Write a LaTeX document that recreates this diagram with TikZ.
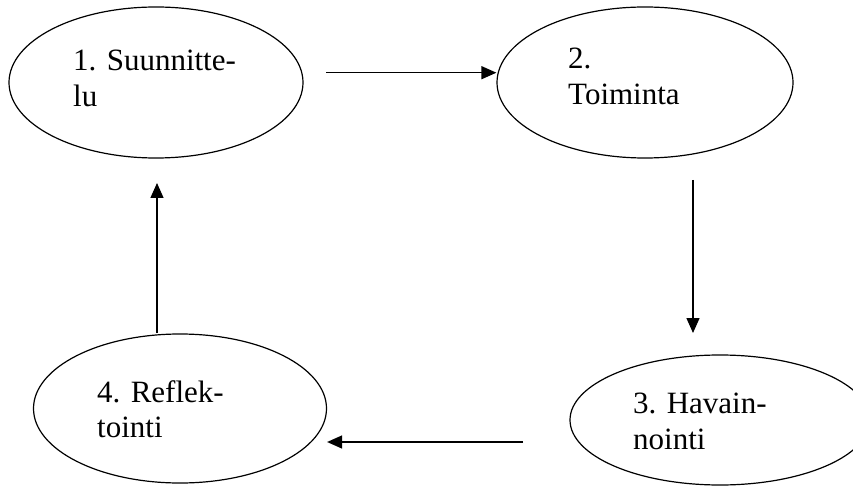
\documentclass[tikz,border=0pt]{standalone}
\usepackage{fontspec}
\setmainfont{Liberation Serif}
\usetikzlibrary{shapes.geometric,arrows.meta}
\begin{document}
\begin{tikzpicture}[x=1pt,y=-1pt,
  oval/.style={ellipse, draw, line width=1.2pt, inner sep=0pt},
  lbl/.style={anchor=base west, inner sep=0pt, font=\fontsize{31}{36}\selectfont},
  arr/.style={line width=1.4pt, -{Triangle[length=15pt,width=13pt]}}]
\useasboundingbox (0,0) rectangle (853,486);
\node[oval, minimum width=294pt, minimum height=151pt] (e1) at (156,82.5) {};
\node[oval, minimum width=296pt, minimum height=151pt] (e2) at (645,82.5) {};
\node[oval, minimum width=300pt, minimum height=130pt] (e3) at (720,420) {};
\node[oval, minimum width=293pt, minimum height=149pt] (e4) at (180,408.5) {};
\node[lbl] (t1a) at (73,71) {1. Suunnitte-};
\node[lbl] (t1b) at (73,107) {lu};
\node[lbl] (t2a) at (568,69) {2.};
\node[lbl] (t2b) at (568,105) {Toiminta};
\node[lbl] (t3a) at (633,413) {3. Havain-};
\node[lbl] (t3b) at (633,449) {nointi};
\node[lbl] (t4a) at (97,402) {4. Reflek-};
\node[lbl] (t4b) at (97,437) {tointi};
\coordinate (a12) at (326,72.7);
\coordinate (a23s) at (693,180);
\coordinate (a23e) at (693,333);
\coordinate (a34) at (523,442);
\coordinate (a41s) at (157,333);
\coordinate (a41e) at (157,183);
\draw[arr] (a12) -- (a12 -| e2.west);
\draw[arr] (a23s) -- (a23e);
\draw[arr] (a34) -- (a34 -| e4.east);
\draw[arr] (a41s) -- (a41e);
\end{tikzpicture}
\end{document}
